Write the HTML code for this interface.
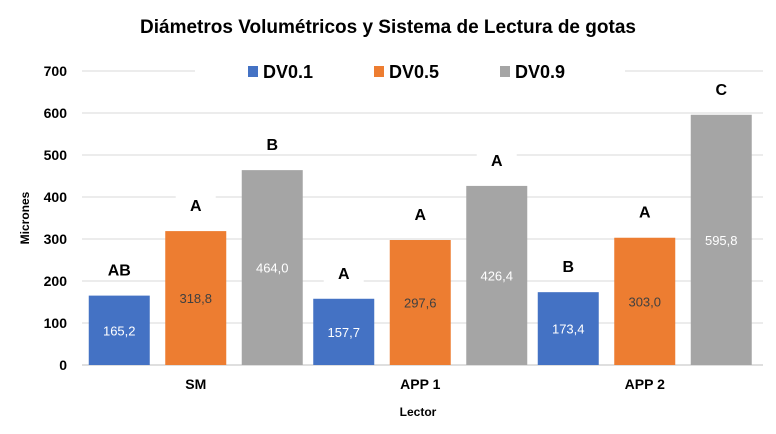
<!DOCTYPE html>
<html><head><meta charset="utf-8"><style>
body{margin:0;background:#fff;}
svg{display:block;font-family:"Liberation Sans",sans-serif;}
</style></head><body>
<svg id="chart" width="776" height="434">
<text x="388" y="33" text-anchor="middle" font-size="19" font-weight="bold" fill="#000">Diámetros Volumétricos y Sistema de Lectura de gotas</text>
<g id="grid"></g><g id="yticks"></g><g id="bars"></g><g id="xlabels"></g>
<text transform="translate(29,218) rotate(-90)" text-anchor="middle" font-size="12" font-weight="bold">Micrones</text>
<text x="418" y="416" text-anchor="middle" font-size="12" font-weight="bold">Lector</text>
<g id="legend"></g>
</svg>
<script>
const categories=["SM","APP 1","APP 2"];
const seriesNames=["DV0.1","DV0.5","DV0.9"];
const dv01=[165.2,157.7,173.4];
const dv05=[318.8,297.6,303.0];
const dv09=[464.0,426.4,595.8];
const letters01=["AB","A","B"];
const letters05=["A","A","A"];
const letters09=["B","A","C"];
const yTicks=[0,100,200,300,400,500,600,700];
const colors=["#4472c4","#ed7d31","#a5a5a5"];
const labelColors=["#fff","#404040","#fff"];
const NS="http://www.w3.org/2000/svg";
const gx0=82,gx1=763,x0=83.5,x1=757,y0=365,yTop=71,yMax=700;
const y=v=>y0-(v/yMax)*(y0-yTop);
const catW=(x1-x0)/categories.length;
function mk(t,a,p){const e=document.createElementNS(NS,t);for(const k in a)e.setAttribute(k,a[k]);p.appendChild(e);return e;}
const grid=document.getElementById('grid'),yt=document.getElementById('yticks');
yTicks.forEach(v=>{
  const l=mk('line',{x1:gx0,x2:gx1,y1:y(v),y2:y(v),stroke:v===0?'#bfbfbf':'#d9d9d9','stroke-width':1},grid);
  
  
  const t=mk('text',{x:67,y:y(v)+5,'text-anchor':'end','font-size':14,'font-weight':'bold'},yt);
  t.textContent=v;
  
  
});
const bars=document.getElementById('bars'),xl=document.getElementById('xlabels');
const series=[dv01,dv05,dv09],lets=[letters01,letters05,letters09];
const bw=61,step=76.5;
categories.forEach((c,i)=>{
  const cx=x0+catW*(i+0.5);
  series.forEach((s,j)=>{
    const bx=cx+(j-1)*step-bw/2;
    const r=mk('rect',{x:bx,y:y(s[i]),width:bw,height:y0-y(s[i]),fill:colors[j]},bars);
    
    
    const vl=mk('text',{x:bx+bw/2,y:(y(s[i])+y0)/2+5,'text-anchor':'middle','font-size':13,fill:labelColors[j]},bars);
    vl.textContent=s[i].toFixed(1).replace('.',',');
    
    
    const ly=y(s[i])-22;
    mk('rect',{x:bx+bw/2-20,y:ly-14,width:40,height:20,fill:'#fff'},bars);
    const lt=mk('text',{x:bx+bw/2,y:ly+2,'text-anchor':'middle','font-size':16,'font-weight':'bold'},bars);
    lt.textContent=lets[j][i];
    
    
  });
  const t=mk('text',{x:cx,y:389,'text-anchor':'middle','font-size':14,'font-weight':'bold'},xl);
  t.textContent=c;
  
  
});
const lg=document.getElementById('legend');
mk('rect',{x:195,y:58,width:430,height:28,fill:'#fff'},lg);
const lx=[248,374,500];
seriesNames.forEach((n,j)=>{
  const r=mk('rect',{x:lx[j],y:66,width:10,height:11,fill:colors[j]},lg);
  
  
  const t=mk('text',{x:lx[j]+15,y:78,'font-size':18,'font-weight':'bold'},lg);
  t.textContent=n;
  
  
});
</script>
</body></html>
